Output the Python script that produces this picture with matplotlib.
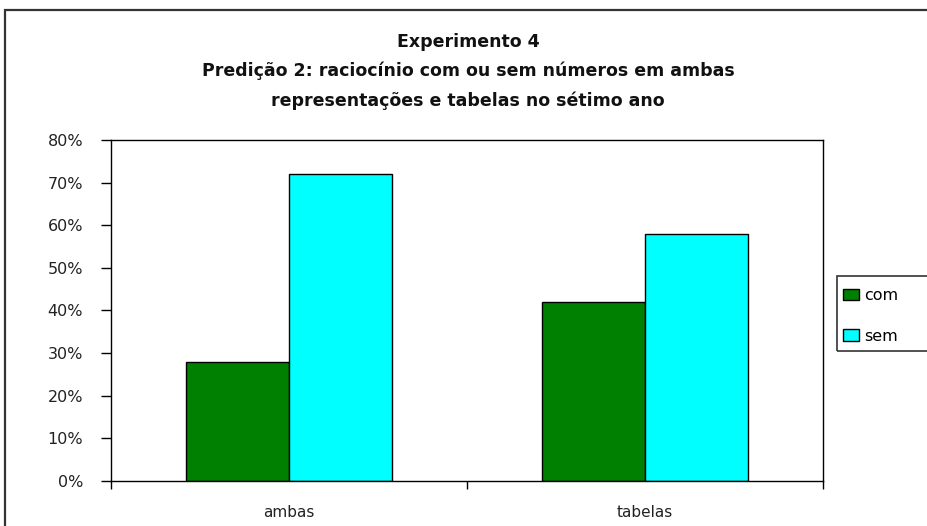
import matplotlib
matplotlib.use("Agg")
import matplotlib.pyplot as plt
from matplotlib.patches import Rectangle
from matplotlib.ticker import FixedLocator, NullFormatter

categories = ["ambas", "tabelas"]
series_names = ["com", "sem"]
com_values = [28, 42]
sem_values = [72, 58]
y_ticks = [0, 10, 20, 30, 40, 50, 60, 70, 80]
title_text = ("Experimento 4\n"
              "Predição 2: raciocínio com ou sem números em ambas\n"
              "representações e tabelas no sétimo ano")

plt.rcParams["font.family"] = ["DejaVu Sans"]

W, H = 927, 526
fig = plt.figure(figsize=(W / 100, H / 100), dpi=100)
fig.patch.set_facecolor("white")

# outer chart border (runs off the right and bottom edges)
fig.patches.append(Rectangle((5 / W, -0.05), 1.2, (H - 10) / H + 0.05,
                             transform=fig.transFigure, fill=False,
                             edgecolor="#333333", linewidth=1.6, zorder=0))

ax = fig.add_axes([111 / W, 45 / H, 712 / W, 341 / H])

x = list(range(len(categories)))
w = 0.29
off = 0.145
ax.bar([i - off for i in x], com_values, width=w, color="#008000",
       edgecolor="black", linewidth=1.0, label=series_names[0], zorder=2)
ax.bar([i + off for i in x], sem_values, width=w, color="#00FFFF",
       edgecolor="black", linewidth=1.0, label=series_names[1], zorder=2)

ax.set_xlim(-0.5, len(categories) - 0.5)
ax.set_ylim(0, 80)
ax.set_yticks(y_ticks)
ax.set_yticklabels([f"{v}%" for v in y_ticks], fontsize=11.5, color="#222222")
ax.tick_params(axis="y", direction="out", length=7, width=1, pad=13)

# category boundary ticks below the axis, names centred under each group
ax.xaxis.set_major_locator(FixedLocator([-0.5, 0.5, 1.5]))
ax.xaxis.set_major_formatter(NullFormatter())
ax.xaxis.set_minor_locator(FixedLocator(x))
ax.set_xticklabels(categories, minor=True, fontsize=11, color="#222222")
ax.tick_params(axis="x", which="major", direction="out", length=6, width=1)
ax.tick_params(axis="x", which="minor", length=0, pad=17)

for s in ax.spines.values():
    s.set_color("black")
    s.set_linewidth(1.0)

fig.text(0.505, 1 - 33 / H, title_text, ha="center", va="top", fontsize=12.5,
         fontweight="bold", linespacing=1.75, color="#111111")

# legend frame running off the right edge
fig.patches.append(Rectangle((837 / W, 1 - 351 / H), 0.2, 75 / H,
                             transform=fig.transFigure, fill=False,
                             edgecolor="#333333", linewidth=1.2, zorder=3))
leg = fig.legend(loc="upper left", bbox_to_anchor=(843 / W, 1 - 288 / H),
                 fontsize=11.5, frameon=False,
                 handlelength=1.0, handleheight=0.75, handletextpad=0.3,
                 borderpad=0, labelspacing=1.6, borderaxespad=0)

fig.savefig("out.png", dpi=100, facecolor="white")
